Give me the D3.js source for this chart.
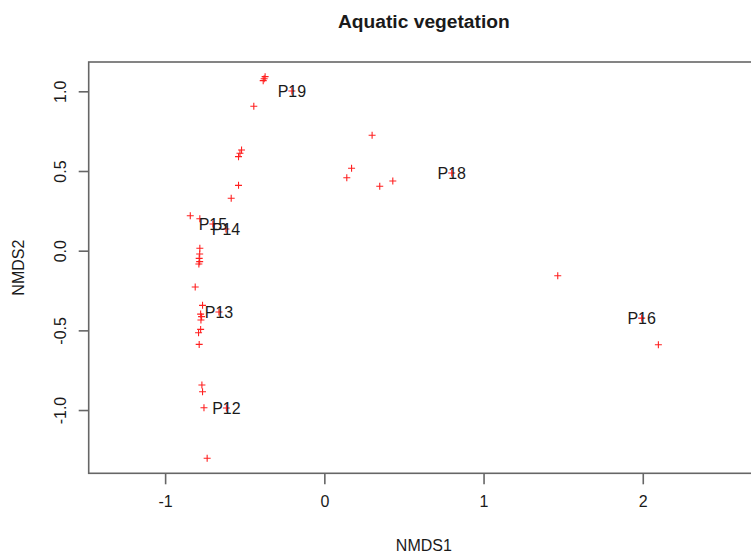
<!DOCTYPE html>
<html>
<head>
<meta charset="utf-8">
<script src="https://cdn.jsdelivr.net/npm/d3@7"></script>
<style>
  html, body { margin: 0; padding: 0; background: #fff; }
  svg { display: block; font-family: "Liberation Sans", Arial, Helvetica, sans-serif; }
</style>
</head>
<body>
<svg id="chart" width="751" height="554"></svg>
<script>
// Ordination scores (NMDS axis 1 and 2) for each sample
const nmds1 = [-0.372, -0.378, -0.384, -0.443, -0.520, -0.530, -0.539, -0.539, -0.585,
  -0.842, -0.782, -0.782, -0.783, -0.786, -0.783, -0.788, -0.811, -0.765, -0.777,
  -0.771, -0.775, -0.777, -0.790, -0.786, -0.769, -0.765, -0.756, -0.736,
  0.300, 0.171, 0.141, 0.348, 0.430, 1.466, 2.098];
const nmds2 = [1.092, 1.079, 1.067, 0.906, 0.632, 0.611, 0.590, 0.410, 0.329,
  0.219, 0.200, 0.015, -0.021, -0.048, -0.069, -0.084, -0.228, -0.343, -0.398,
  -0.414, -0.435, -0.494, -0.515, -0.588, -0.843, -0.885, -0.986, -1.303,
  0.724, 0.517, 0.458, 0.404, 0.437, -0.157, -0.590];

// Labelled sites
const siteNames = ["P19", "P18", "P16", "P15", "P14", "P13", "P12"];
const siteX = [-0.204, 0.800, 1.993, -0.700, -0.618, -0.662, -0.615];
const siteY = [1.002, 0.487, -0.423, 0.167, 0.136, -0.385, -0.987];

// Axis ticks
const xTicks = [-1, 0, 1, 2];
const yTicks = [-1.0, -0.5, 0.0, 0.5, 1.0];
const yTickLabels = ["-1.0", "-0.5", "0.0", "0.5", "1.0"];

const svg = d3.select("#chart");
const box = { left: 88.7, right: 759, top: 62, bottom: 473.3 };

const x = d3.scaleLinear().domain([-1.480, 2.730]).range([box.left, box.right]);
const y = d3.scaleLinear().domain([-1.397, 1.184]).range([box.bottom, box.top]);

const axisColor = "#666";
const textColor = "#1a1a1a";

// Plot frame
svg.append("rect")
  .attr("x", box.left).attr("y", box.top)
  .attr("width", box.right - box.left).attr("height", box.bottom - box.top)
  .attr("fill", "none").attr("stroke", axisColor).attr("stroke-width", 1.6);

// Bottom axis
const xAxis = svg.append("g")
  .attr("transform", `translate(0,${box.bottom})`)
  .call(d3.axisBottom(x).tickValues(xTicks).tickSize(11).tickPadding(11).tickFormat(d3.format("d")));
xAxis.select(".domain").remove();
xAxis.selectAll(".tick line").attr("stroke", axisColor).attr("stroke-width", 1.6);
xAxis.selectAll(".tick text")
  .attr("fill", textColor).style("font-size", "16px")
  .style("font-family", "'Liberation Sans', Arial, sans-serif")
  .text((d, i) => (d < 0 ? "-" + Math.abs(d) : String(d)));

// Left axis with rotated labels
const yAxis = svg.append("g")
  .attr("transform", `translate(${box.left},0)`)
  .call(d3.axisLeft(y).tickValues(yTicks).tickSize(10).tickFormat((d, i) => yTickLabels[i]));
yAxis.select(".domain").remove();
yAxis.selectAll(".tick line").attr("stroke", axisColor).attr("stroke-width", 1.6);
yAxis.selectAll(".tick text")
  .attr("fill", textColor).style("font-size", "16px")
  .style("font-family", "'Liberation Sans', Arial, sans-serif")
  .attr("x", null).attr("dy", null)
  .attr("text-anchor", "middle")
  .attr("transform", "translate(-23,0) rotate(-90)")
  .attr("y", 0);

// Axis titles
svg.append("text")
  .attr("x", (box.left + box.right) / 2).attr("y", 551)
  .attr("text-anchor", "middle").attr("fill", textColor)
  .style("font-size", "16px").text("NMDS1");

svg.append("text")
  .attr("transform", `translate(24,${(box.top + box.bottom) / 2}) rotate(-90)`)
  .attr("text-anchor", "middle").attr("fill", textColor)
  .style("font-size", "16px").text("NMDS2");

// Title
svg.append("text")
  .attr("x", (box.left + box.right) / 2).attr("y", 28)
  .attr("text-anchor", "middle").attr("fill", textColor)
  .style("font-size", "19.2px").style("font-weight", "bold")
  .text("Aquatic vegetation");

// Plot clip
svg.append("clipPath").attr("id", "plotClip")
  .append("rect").attr("x", box.left).attr("y", box.top)
  .attr("width", box.right - box.left).attr("height", box.bottom - box.top);

const plot = svg.append("g").attr("clip-path", "url(#plotClip)");

// Red cross marks
const arm = 3.5;
const crossPath = (cx, cy) =>
  `M${cx - arm},${cy}H${cx + arm}M${cx},${cy - arm}V${cy + arm}`;

const pts = nmds1.map((v, i) => ({ x: v, y: nmds2[i] }));
const sites = siteNames.map((n, i) => ({ name: n, x: siteX[i], y: siteY[i] }));

plot.selectAll("path.pt")
  .data(pts.concat(sites))
  .join("path")
  .attr("class", "pt")
  .attr("d", d => crossPath(x(d.x), y(d.y)))
  .attr("stroke", "#ff2020").attr("stroke-width", 1.1).attr("fill", "none");

// Site labels centred on their scores
plot.selectAll("text.site")
  .data(sites)
  .join("text")
  .attr("class", "site")
  .attr("x", d => x(d.x)).attr("y", d => y(d.y))
  .attr("dy", "0.36em")
  .attr("text-anchor", "middle")
  .attr("fill", textColor)
  .style("font-size", "16px")
  .text(d => d.name);
</script>
</body>
</html>
